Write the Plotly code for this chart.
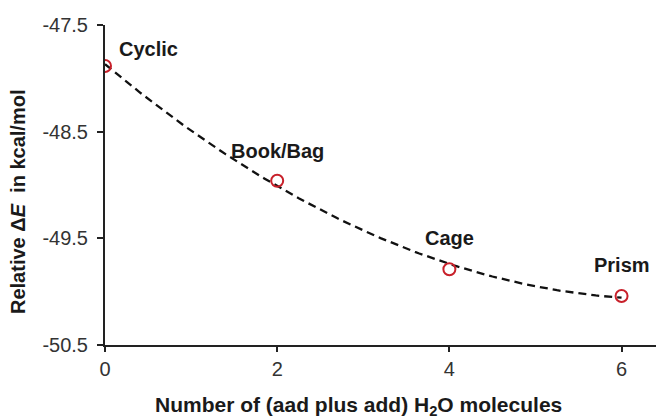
import numpy as np
import plotly.graph_objects as go

# Data
n_water = [0, 2, 4, 6]
rel_energy = [-47.884, -48.96, -49.79, -50.04]
labels = ["Cyclic", "Book/Bag", "Cage", "Prism"]
y_ticks = [-50.5, -49.5, -48.5, -47.5]
x_ticks = [0, 2, 4, 6]

FONT = "Liberation Sans, Arial, sans-serif"
RED = "#C8202A"

# Second-order polynomial trendline fitted to the data (as in the original)
coef = np.polyfit(n_water, rel_energy, 2)
xs = np.linspace(min(n_water), max(n_water), 121)
ys = np.polyval(coef, xs)

fig = go.Figure()
fig.add_trace(go.Scatter(x=xs, y=ys, mode="lines",
                         line=dict(color="#111111", width=2.3, dash="8px,5px"),
                         hoverinfo="skip", showlegend=False))
fig.add_trace(go.Scatter(x=n_water, y=rel_energy, mode="markers",
                         marker=dict(symbol="circle-open", size=12, color=RED,
                                     line=dict(width=2, color=RED)),
                         showlegend=False))

label_shift = [(12, 17, "left"), (0, 30, "center"), (0, 31, "center"), (0, 31, "center")]
for xv, yv, lab, (dx, dy, anc) in zip(n_water, rel_energy, labels, label_shift):
    fig.add_annotation(x=xv, y=yv, text="<b>%s</b>" % lab, showarrow=False,
                       xshift=dx, yshift=dy, xanchor=anc, yanchor="middle",
                       font=dict(family=FONT, size=20, color="#1a1a1a"))

# Axis titles
fig.add_annotation(xref="paper", yref="paper", x=(358 - 105) / 551, y=-(406 - 345) / 320,
                   text="<b>Number of (aad plus add) H<sub>2</sub>O molecules</b>",
                   showarrow=False, xanchor="center", yanchor="middle",
                   font=dict(family=FONT, size=21, color="#1a1a1a"))
fig.add_annotation(xref="paper", yref="paper", x=-(105 - 18) / 551, y=(345 - 202) / 320,
                   text="<b>Relative Δ<i>E</i>  in kcal/mol</b>", textangle=-90,
                   showarrow=False, xanchor="center", yanchor="middle",
                   font=dict(family=FONT, size=20, color="#1a1a1a"))

fig.update_xaxes(range=[0, 6.4], tickmode="array", tickvals=x_ticks,
                 ticktext=[str(v) for v in x_ticks],
                 showgrid=False, zeroline=False, showline=True, linecolor="#222222",
                 linewidth=2, ticks="outside", ticklen=5, tickwidth=1.5, tickcolor="#222222",
                 tickfont=dict(family=FONT, size=20, color="#333333"))
fig.update_yaxes(range=[-50.5, -47.5], tickmode="array", tickvals=y_ticks,
                 ticktext=["%.1f" % v for v in y_ticks],
                 showgrid=False, zeroline=False, showline=True, linecolor="#222222",
                 linewidth=2, ticks="outside", ticklen=6, tickwidth=1.5, tickcolor="#222222",
                 ticklabelstandoff=5,
                 tickfont=dict(family=FONT, size=20, color="#333333"))

fig.update_layout(width=657, height=419, margin=dict(l=105, r=1, t=25, b=74),
                  plot_bgcolor="white", paper_bgcolor="white", showlegend=False)

fig.write_html("out.html", config={"displayModeBar": False},
               post_script="document.body.style.margin='0';document.body.style.padding='0';")
